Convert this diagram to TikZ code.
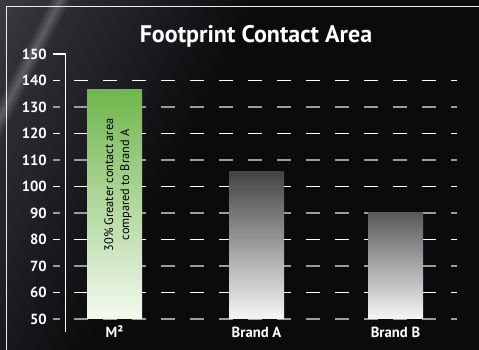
\documentclass[tikz,border=0pt]{standalone}
\usepackage{fontspec}
\setmainfont{PT Sans}
\usetikzlibrary{positioning}

\definecolor{bgblack}{HTML}{0B0B0D}
\definecolor{bandgrey}{HTML}{3C3E43}
\definecolor{bandgreyB}{HTML}{2E3034}
\definecolor{streak}{HTML}{5C5E62}
\definecolor{bandgreyC}{HTML}{2A2C30}
\definecolor{bandgreyD}{HTML}{212327}
\definecolor{bandgreyE}{HTML}{16171A}
\definecolor{bandblue}{HTML}{373B43}
\definecolor{gridgrey}{HTML}{9C9C9C}
\definecolor{barGreen}{HTML}{70B64C}
\definecolor{barGreenMid}{HTML}{92C671}
\definecolor{barGreenLow}{HTML}{F4F9F0}
\definecolor{barLow}{HTML}{F6F6F6}

\pgfdeclarehorizontalshading{bgmain}{100bp}{color(0bp)=(bandgrey); color(25bp)=(bandgrey);
  color(29.2bp)=(bandgreyB); color(30bp)=(streak); color(30.8bp)=(bandgreyC);
  color(35bp)=(bandgreyD); color(40bp)=(bandgreyE); color(45bp)=(bgblack); color(100bp)=(bgblack)}

\begin{document}
\begin{tikzpicture}[x=0.75pt, y=0.75pt]
\tikzstyle{ylab}=[anchor=east, text=white, inner sep=0pt,
                  font=\fontsize{11}{13}\selectfont\bfseries];
\tikzstyle{barlab}=[anchor=base, text=white, inner sep=0pt,
                  font=\fontsize{11}{13}\selectfont\bfseries];
\tikzstyle{gridw}=[white, line width=1pt, dash pattern=on 10.5pt off 11.25pt];
\tikzstyle{gridg}=[gridgrey, line width=1pt, dash pattern=on 10.5pt off 11.25pt];
\useasboundingbox (0,0) rectangle (479,350);
% background
\fill[bgblack] (0,0) rectangle (479,350);
\begin{scope}
\clip (0,0) rectangle (479,350);
\begin{scope}[transform canvas={rotate around={-27:(240,175)}}]
\shade[shading=bgmain] (-60,-250) rectangle (540,600);
\end{scope}
\begin{scope}[transform canvas={rotate around={-40:(240,175)}}]
\shade[left color=bgblack, middle color=bandblue, right color=bgblack] (228,-250) rectangle (408,600);
\end{scope}
\end{scope}
\draw[white!85!gray, line width=1.1pt] (479,343.5) -- (6.5,343.5) -- (6.5,0);
\node[anchor=base, text=white, font=\fontsize{18}{22}\selectfont\bfseries] (title) at (256,307.3) {Footprint Contact Area};
% grid and axis
\foreach \v in {60,80,...,140}
{\pgfmathsetmacro{\yy}{31+(\v-50)*2.65}
 \draw[white, line width=1pt] (53,\yy) -- (60,\yy);
 \draw[gridw] (74,\yy) -- (457,\yy);}
\foreach \v in {50,70,...,130}
{\pgfmathsetmacro{\yy}{31+(\v-50)*2.65}
 \draw[gridgrey, line width=1pt] (53,\yy) -- (60,\yy);
 \draw[gridg] (74,\yy) -- (457,\yy);}
\draw[white, line width=1pt] (53,296) -- (65.5,296) -- (65.5,18);
\foreach \v in {50,60,...,150}
{\pgfmathsetmacro{\yy}{31+(\v-50)*2.65}
 \node[ylab] (y\v) at (47,\yy) {\v};}
% bars
\shade[top color=barGreen, middle color=barGreenMid, bottom color=barGreenLow] (87,31) rectangle (142,260);
\shade[top color=black!73, middle color=black!55, bottom color=barLow] (229,31) rectangle (284,178);
\shade[top color=black!65, middle color=black!50, bottom color=barLow] (368,31) rectangle (423,137.3);
\node[rotate=90, align=center, text=black, font=\fontsize{9.25}{12}\selectfont] (note) at (118,165) {30\% Greater contact area\\compared to Brand A};
\node[barlab] (labM) at (114.5,12.7) {M²};
\node[barlab] (labA) at (256.5,12.7) {Brand A};
\node[barlab] (labB) at (395.5,12.7) {Brand B};
\end{tikzpicture}
\end{document}
